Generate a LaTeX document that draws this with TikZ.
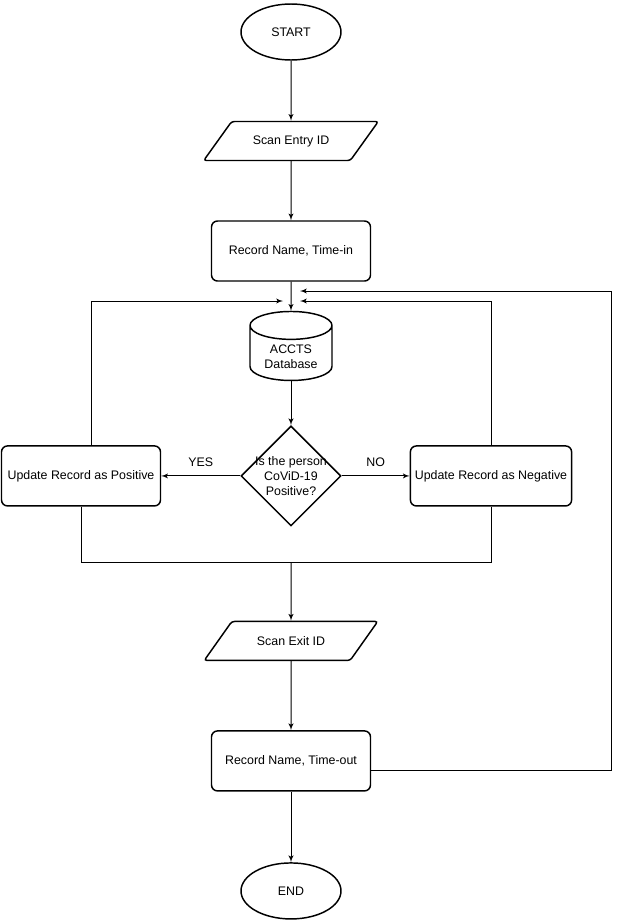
\documentclass[tikz,border=0pt]{standalone}
\usepackage{fontspec}
\setmainfont{Liberation Sans}
\usetikzlibrary{shapes,arrows,positioning,calc}
\tikzstyle{line} = [draw, line width=0.75pt, -latex']
\tikzstyle{wire} = [draw, line width=0.75pt]
\tikzstyle{term} = [draw, ellipse, line width=1.1pt, minimum width=75pt, minimum height=42pt]
\tikzstyle{io} = [draw, trapezium, trapezium left angle=45, trapezium right angle=135, trapezium stretches=true, rounded corners=2pt, line width=1.1pt, minimum width=131.25pt, minimum height=29.25pt]
\tikzstyle{process} = [draw, rectangle, rounded corners=4.5pt, line width=1.1pt, minimum width=119.25pt, minimum height=45pt]
\tikzstyle{decision} = [draw, diamond, aspect=1, inner sep=0pt, line width=1.1pt, minimum width=75pt, minimum height=75pt]
\tikzstyle{db} = [draw, cylinder, shape border rotate=90, aspect=0.45, line width=1.1pt, minimum width=61.5pt, minimum height=51.75pt, align=center]

\begin{document}
\begin{tikzpicture}[node distance = 80pt, on grid, auto, font=\fontsize{9.3}{11}\selectfont]
    \useasboundingbox (0,0) rectangle (465pt,-691.5pt);
    \node [term] (start) at (218.25pt,-24pt) {START};
    \node [io, below=81.75pt of start] (scanin) {Scan Entry ID};
    \node [process, below=82.5pt of scanin] (recin) {Record Name, Time-in};
    \node [db, below=79.1pt of recin] (acdb) {ACCTS\\Database};
    \node [decision, below=89.6pt of acdb,
        label={[align=center]center:Is the person\\CoViD-19\\Positive?}] (decide) {};
    \node [process, left=157.5pt of decide] (pos) {Update Record as Positive};
    \node [process, right=150pt of decide] (neg) {Update Record as Negative};
    \node [io, below=123.75pt of decide] (scanout) {Scan Exit ID};
    \node [process, below=90pt of scanout] (recout) {Record Name, Time-out};
    \node [term, below=97.5pt of recout] (finish) {END};

    \coordinate [below left=37.5pt and 6pt of recin] (leftin);
    \coordinate [below right=37.5pt and 6.75pt of recin] (rightin);
    \coordinate [below right=30pt and 6.75pt of recin] (loopin);
    \coordinate [right=233.25pt of loopin] (loopcorner);
    \coordinate [below=65.25pt of decide] (merge);

    \path [line] (start) -- (scanin);
    \path [line] (scanin) -- (recin);
    \path [line] (recin) -- (acdb);
    \path [line] (acdb) -- (decide);
    \path [line] (decide) -- node [above=3pt] {YES} (pos);
    \path [line] (decide) -- node [above=3pt] {NO} (neg);
    \path [line] ($(pos.north)+(7.5pt,0)$) |- (leftin);
    \path [line] (neg.north) |- (rightin);
    \path [wire] (pos.south) |- (merge) -| (neg.south);
    \path [line] (merge) -- (scanout);
    \path [line] (scanout) -- (recout);
    \path [line] (recout) -- (finish);
    \path [line] ($(recout.east)+(0,-7.5pt)$) -| (loopcorner) -- (loopin);
\end{tikzpicture}
\end{document}
